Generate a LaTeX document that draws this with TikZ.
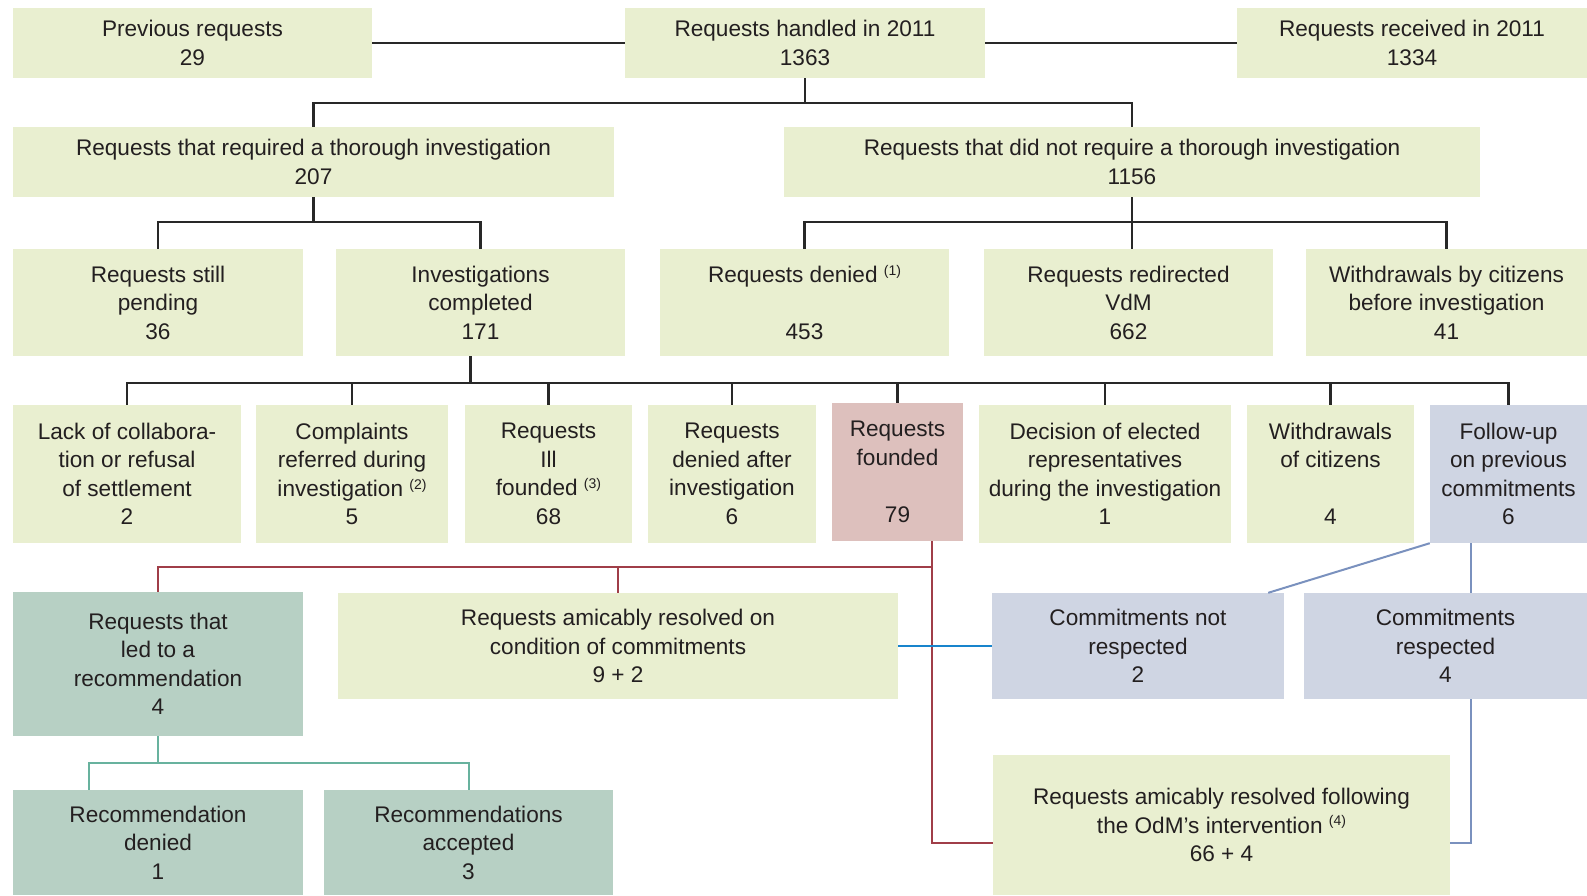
\documentclass[tikz,border=0pt]{standalone}
\usepackage{fontspec}
\setmainfont{Liberation Sans}
\usetikzlibrary{positioning}
\definecolor{boxgreen}{RGB}{233,239,208}
\definecolor{boxpink}{RGB}{221,192,189}
\definecolor{boxteal}{RGB}{183,208,196}
\definecolor{boxslate}{RGB}{207,213,227}
\definecolor{txtgrey}{RGB}{35,31,32}
\definecolor{linegrey}{RGB}{40,40,40}
\definecolor{redline}{RGB}{160,62,72}
\definecolor{tealline}{RGB}{104,178,158}
\definecolor{slateline}{RGB}{122,145,190}
\definecolor{blueline}{RGB}{24,132,204}
\newcommand{\fnmark}[1]{\ \raisebox{0.6ex}{\fontsize{14}{14}\selectfont(#1)}}

\begin{document}
\begin{tikzpicture}[x=1pt,y=-1pt,
    gbox/.style={fill=boxgreen, text=txtgrey, align=center, inner sep=0pt,
      font=\fontsize{22.6}{28.5}\selectfont},
    pbox/.style={gbox, fill=boxpink},
    tbox/.style={gbox, fill=boxteal},
    sbox/.style={gbox, fill=boxslate},
    sz/.style 2 args={minimum width=#1pt, minimum height=#2pt},
    tree/.style={draw=linegrey, line width=2.5pt},
    redl/.style={draw=redline, line width=2pt},
    teall/.style={draw=tealline, line width=2pt},
    slatel/.style={draw=slateline, line width=2pt},
    bluel/.style={draw=blueline, line width=2.5pt}]
\useasboundingbox (0,0) rectangle (1587,895);

% Row 1
\node[gbox, sz={359}{70}] (prev) at (192.5,43) {Previous requests\\29};
\node[gbox, sz={360}{70}] (handled) at (805,43) {Requests handled in 2011\\1363};
\node[gbox, sz={350}{70}] (received) at (1412,43) {Requests received in 2011\\1334};

% Row 2
\node[gbox, sz={601}{70}] (req) at (313.5,162) {Requests that required a thorough investigation\\207};
\node[gbox, sz={696}{70}] (noreq) at (1132,162) {Requests that did not require a thorough investigation\\1156};

% Row 3
\node[gbox, sz={290}{107}] (pending) at (158,302.5) {Requests still\\pending\\36};
\node[gbox, sz={289}{107}] (invest) at (480.5,302.5) {Investigations\\completed\\171};
\node[gbox, sz={289}{107}] (rdenied) at (804.5,302.5) {Requests denied\fnmark{1}\\\mbox{}\\453};
\node[gbox, sz={289}{107}] (redir) at (1128.5,302.5) {Requests redirected\\VdM\\662};
\node[gbox, sz={281}{107}] (wbefore) at (1446.5,302.5) {Withdrawals by citizens\\before investigation\\41};

% Row 4
\node[gbox, sz={228}{138}] (lack) at (127,474) {Lack of collabora-\\tion or refusal\\of settlement\\2};
\node[gbox, sz={192}{138}] (compl) at (352,474) {Complaints\\referred during\\investigation\fnmark{2}\\5};
\node[gbox, sz={167}{138}] (illf) at (548.5,474) {Requests\\Ill\\founded\fnmark{3}\\68};
\node[gbox, sz={168}{138}] (dafter) at (732,474) {Requests\\denied after\\investigation\\6};
\node[pbox, sz={131}{138}] (founded) at (897.5,472) {Requests\\founded\\\mbox{}\\79};
\node[gbox, sz={252}{138}] (decis) at (1105,474) {Decision of elected\\representatives\\during the investigation\\1};
\node[gbox, sz={167}{138}] (wcit) at (1330.5,474) {Withdrawals\\of citizens\\\mbox{}\\4};
\node[sbox, sz={157}{138}] (follow) at (1508.5,474) {Follow-up\\on previous\\commitments\\6};

% Row 5
\node[tbox, sz={290}{144}] (ledrec) at (158,664) {Requests that\\led to a\\recommendation\\4};
\node[gbox, sz={560}{106}] (amic) at (618,646) {Requests amicably resolved on\\condition of commitments\\9 + 2};
\node[sbox, sz={292}{106}] (cnot) at (1138,646) {Commitments not\\respected\\2};
\node[sbox, sz={283}{106}] (cresp) at (1445.5,646) {Commitments\\respected\\4};

% Row 6
\node[gbox, sz={457}{140}] (odm) at (1221.5,825) {Requests amicably resolved following\\the OdM’s intervention\fnmark{4}\\66 + 4};
\node[tbox, sz={290}{105}] (recden) at (158,842.5) {Recommendation\\denied\\1};
\node[tbox, sz={289}{105}] (recacc) at (468.5,842.5) {Recommendations\\accepted\\3};

% Tree connectors
\draw[tree] (prev.east) -- (handled.west);
\draw[tree] (handled.east) -- (received.west);
\draw[tree] (handled.south) -- ++(0,25) coordinate (j1);
\draw[tree] (req.north) |- (j1) -| (noreq.north);
\draw[tree] (req.south) -- ++(0,25) coordinate (j2);
\draw[tree] (pending.north) |- (j2) -| (invest.north);
\draw[tree] (noreq.south) -- ++(0,25) coordinate (j3);
\draw[tree] (rdenied.north) |- (j3) -| (wbefore.north);
\draw[tree] (j3) -- (j3 |- redir.north);
\draw[tree] ([xshift=-10pt]invest.south) -- ++(0,27) coordinate (j4);
\draw[tree] (lack.north) |- (j4) -| (follow.north);
\foreach \n in {compl,illf,dafter,founded,decis,wcit}
  \draw[tree] (\n.north) -- (\n.north |- j4);

% Founded requests
\coordinate (r0) at ([xshift=34.5pt]founded.south);
\coordinate (r1) at ([yshift=-26pt]r0);
\draw[redl] (r0) |- ([yshift=-18pt]odm.west);
\draw[redl] (r1) -| (ledrec.north);
\draw[redl] (amic.north) -- (amic.north |- r1);
\draw[bluel] (amic.east) -- (cnot.west);

% Follow-up
\draw[slatel] (follow.south west) -- ([xshift=-16pt]cnot.north east);
\draw[slatel] ([xshift=41pt]follow.south west) -- ([xshift=41pt]follow.south west |- cresp.north);
\draw[slatel] ([xshift=41pt]follow.south west |- cresp.south) |- ([yshift=-18pt]odm.east);

% Recommendations
\draw[teall] (ledrec.south) -- ++(0,27) coordinate (j5);
\draw[teall] ([xshift=-69pt]recden.north) |- (j5) -| (recacc.north);
\end{tikzpicture}
\end{document}
